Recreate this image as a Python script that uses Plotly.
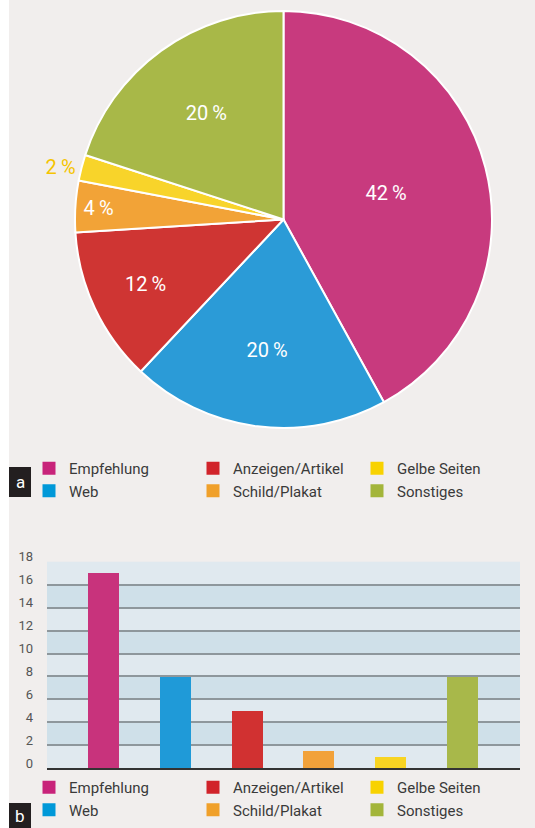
import plotly.graph_objects as go

# ---------------- data ----------------
categories = ["Empfehlung", "Web", "Anzeigen/Artikel", "Schild/Plakat", "Gelbe Seiten", "Sonstiges"]
pie_percent = [42, 20, 12, 4, 2, 20]
bar_values = [17, 8, 5, 1.5, 1, 8]
y_ticks = [0, 2, 4, 6, 8, 10, 12, 14, 16, 18]
legend_order = ["Empfehlung", "Anzeigen/Artikel", "Gelbe Seiten", "Web", "Schild/Plakat", "Sonstiges"]

# ---------------- styles ----------------
slice_colors = ["#c83a7e", "#2b9bd7", "#cf3533", "#f2a337", "#f8d42a", "#a8b848"]
bar_colors = ["#c8337c", "#1f9ad8", "#d13131", "#f2a23a", "#f8d422", "#a8b84a"]
legend_colors = {"Empfehlung": "#c8237a", "Web": "#0098d8", "Anzeigen/Artikel": "#d1232a",
                 "Schild/Plakat": "#f0a02a", "Gelbe Seiten": "#f8d200", "Sonstiges": "#a3b53a"}
FONT = "Roboto, sans-serif"
W, H = 535, 828
BG = "#f1eeed"

def px_x(v):
    return v / W

def px_y(v):
    return 1 - v / H

fig = go.Figure()

# ---------------- pie ----------------
text_pos = ["outside" if v < 3 else "inside" for v in pie_percent]
fig.add_trace(go.Pie(
    labels=categories, values=pie_percent, sort=False, direction="clockwise", rotation=0,
    marker=dict(colors=slice_colors, line=dict(color="white", width=2)),
    text=[f"{v}\u2009%" for v in pie_percent], texttemplate="%{text}",
    textposition=text_pos, insidetextorientation="horizontal",
    insidetextfont=dict(color="white", size=20, family=FONT),
    outsidetextfont=dict(color="#f5c400", size=20, family=FONT),
    domain=dict(x=[px_x(75), px_x(492)], y=[px_y(428), px_y(11)]),
    showlegend=False, hoverinfo="skip",
))

# ---------------- bars ----------------
for cat, val, col in zip(categories, bar_values, bar_colors):
    fig.add_trace(go.Bar(x=[cat], y=[val], marker=dict(color=col, line=dict(width=0)),
                         width=0.432, showlegend=False, hoverinfo="skip"))

# ---------------- legends (dummy entries) ----------------
for lg in ["legend", "legend2"]:
    for rank, cat in enumerate(legend_order):
        fig.add_trace(go.Scatter(x=[None], y=[None], mode="markers", name=cat,
                                 marker=dict(symbol="square", size=13, color=legend_colors[cat]),
                                 legend=lg, legendrank=rank + 1, showlegend=True, hoverinfo="skip"))

legend_style = dict(orientation="h", xanchor="left", yanchor="top", entrywidth=119,
                    font=dict(family=FONT, size=15, color="#3a3a3a"),
                    bgcolor="rgba(0,0,0,0)", itemclick=False, itemdoubleclick=False,
                    traceorder="normal")

# white strip at the left edge, darker bands for bar chart
shapes = [dict(type="rect", xref="paper", yref="paper", x0=0, x1=px_x(9), y0=0, y1=1,
               fillcolor="white", line=dict(width=0), layer="below")]
for lo in y_ticks[1:-1:2]:
    shapes.append(dict(type="rect", xref="x domain", yref="y", x0=0, x1=1, y0=lo, y1=lo + 2,
                       fillcolor="#cfe0e9", line=dict(width=0), layer="below"))
# panel label boxes
shapes.append(dict(type="rect", xref="paper", yref="paper", x0=px_x(9), x1=px_x(31),
                   y0=px_y(497), y1=px_y(467), fillcolor="#231f20", line=dict(width=0)))
shapes.append(dict(type="rect", xref="paper", yref="paper", x0=px_x(9), x1=px_x(31),
                   y0=0, y1=px_y(803), fillcolor="#231f20", line=dict(width=0)))

annotations = [
    dict(text="a", x=px_x(20), y=px_y(482), xref="paper", yref="paper", showarrow=False,
         font=dict(family=FONT, size=17, color="white"), xanchor="center", yanchor="middle"),
    dict(text="b", x=px_x(20), y=px_y(815.5), xref="paper", yref="paper", showarrow=False,
         font=dict(family=FONT, size=17, color="white"), xanchor="center", yanchor="middle"),
]

fig.update_layout(
    width=W, height=H, margin=dict(l=0, r=0, t=0, b=0, autoexpand=False),
    paper_bgcolor=BG, plot_bgcolor="#e0e9ef",
    barmode="overlay", bargap=0,
    font=dict(family=FONT, color="#3a3a3a"),
    shapes=shapes, annotations=annotations,
    legend=dict(x=px_x(29), y=px_y(452), **legend_style),
    legend2=dict(x=px_x(29), y=px_y(771), **legend_style),
    xaxis=dict(domain=[px_x(47), px_x(520)], type="category", categoryorder="array",
               categoryarray=categories, range=[-0.787, 5.8], showticklabels=False,
               showgrid=False, zeroline=False, showline=True, linecolor="#333333", linewidth=2,
               ticks="", automargin=False),
    yaxis=dict(domain=[px_y(768.3), px_y(561.7)], range=[0, 18], tickvals=y_ticks,
               showgrid=True, gridcolor="#8e979c", gridwidth=2, zeroline=False,
               tickfont=dict(family=FONT, size=13, color="#555555"), automargin=False,
               ticklabelstandoff=13, ticklabelshift=-5, ticks=""),
)

fig.write_html("out.html", config={"displayModeBar": False},
               post_script="document.body.style.margin='0';")
